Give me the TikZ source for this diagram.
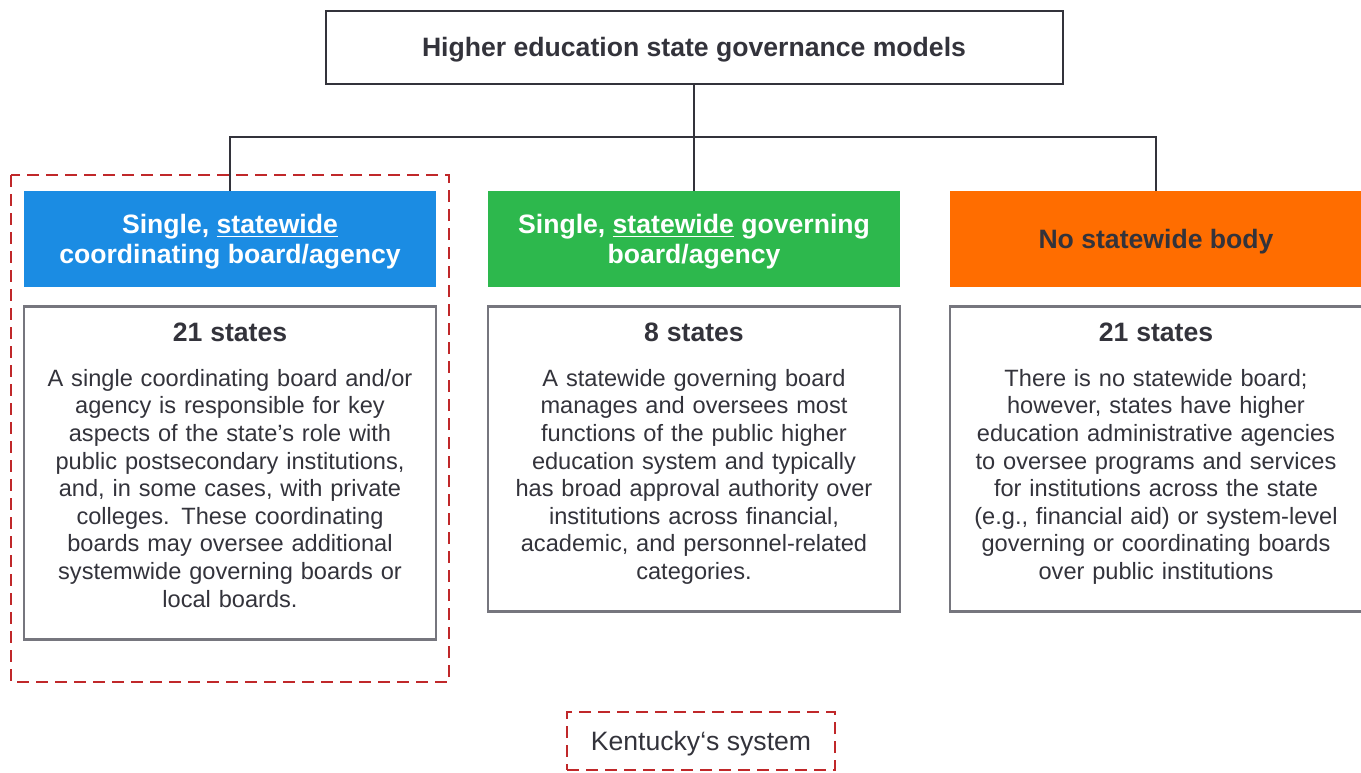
\documentclass[tikz,border=0pt]{standalone}
\usepackage{fontspec}
\setmainfont{Liberation Sans}
\usetikzlibrary{positioning}
\definecolor{hdblue}{HTML}{1B8CE3}
\definecolor{hdgreen}{HTML}{2DB84D}
\definecolor{hdorange}{HTML}{FF6D00}
\definecolor{kyred}{HTML}{C0282A}
\definecolor{boxgrey}{HTML}{76767E}
\definecolor{txtgrey}{HTML}{33333B}
\begin{document}
\begin{tikzpicture}[x=0.5pt,y=-0.5pt,
  topbox/.style={draw=txtgrey, line width=1pt, minimum width=368.5pt, minimum height=36.5pt, text depth=0pt, font=\bfseries\fontsize{13.3}{16}\selectfont, text=txtgrey},
  header/.style={minimum width=206pt, minimum height=48pt, inner sep=0pt, align=center, text depth=0pt, font=\bfseries\fontsize{13.3}{15}\selectfont, text=white},
  bodybox/.style={draw=boxgrey, line width=1.2pt, minimum width=206pt, inner sep=0pt},
  bodytext/.style={text width=204pt, align=center, font=\fontsize{11.8}{13.8}\selectfont, text=txtgrey, inner sep=0pt},
  redframe/.style={draw=kyred, line width=1.4pt, dash pattern=on 6pt off 3.5pt},
  link/.style={draw=txtgrey, line width=1pt}]
\useasboundingbox (0,0) rectangle (1361,772);
% title and the three model headers
\node[topbox] (title) at (694,47) {Higher education state governance models};
\node[header, fill=hdblue] (h1) at (230,239) {Single, \underline{statewide}\\coordinating board/agency};
\node[header, fill=hdgreen] (h2) at (694,239) {Single, \underline{statewide} governing\\board/agency};
\node[header, fill=hdorange, text=txtgrey] (h3) at (1156,239) {No statewide body};
\coordinate (bus) at (694,137);
\draw[link] (title.south) -- (h2.north);
\draw[link] (h1.north) |- (bus) -| (h3.north);
% boxes under the headers
\node[bodybox, minimum height=166.5pt, below=9pt of h1] (b1) {};
\node[bodybox, minimum height=152.5pt, below=9pt of h2] (b2) {};
\node[bodybox, minimum height=152.5pt, below=9pt of h3] (b3) {};
\node[bodytext, below=8.5pt of b1.north] (t1) {{\fontsize{13.3}{15}\selectfont\bfseries 21 states}\\[8.7pt]
  A single coordinating board and/or\\agency is responsible for key\\aspects of the state’s role with\\public postsecondary institutions,\\and, in some cases, with private\\colleges. These coordinating\\boards may oversee additional\\systemwide governing boards or\\local boards.};
\node[bodytext, below=8.5pt of b2.north] (t2) {{\fontsize{13.3}{15}\selectfont\bfseries 8 states}\\[8.7pt]
  A statewide governing board\\manages and oversees most\\functions of the public higher\\education system and typically\\has broad approval authority over\\institutions across financial,\\academic, and personnel-related\\categories.};
\node[bodytext, below=8.5pt of b3.north] (t3) {{\fontsize{13.3}{15}\selectfont\bfseries 21 states}\\[8.7pt]
  There is no statewide board;\\however, states have higher\\education administrative agencies\\to oversee programs and services\\for institutions across the state\\(e.g., financial aid) or system-level\\governing or coordinating boards\\over public institutions};
% Kentucky marker
\draw[redframe] (11,175) rectangle (449,682);
\node[redframe, minimum width=134pt, minimum height=29pt, text depth=0pt, font=\fontsize{13.3}{15}\selectfont, text=txtgrey] (ky) at (701,741) {Kentucky‘s system};
\end{tikzpicture}
\end{document}
